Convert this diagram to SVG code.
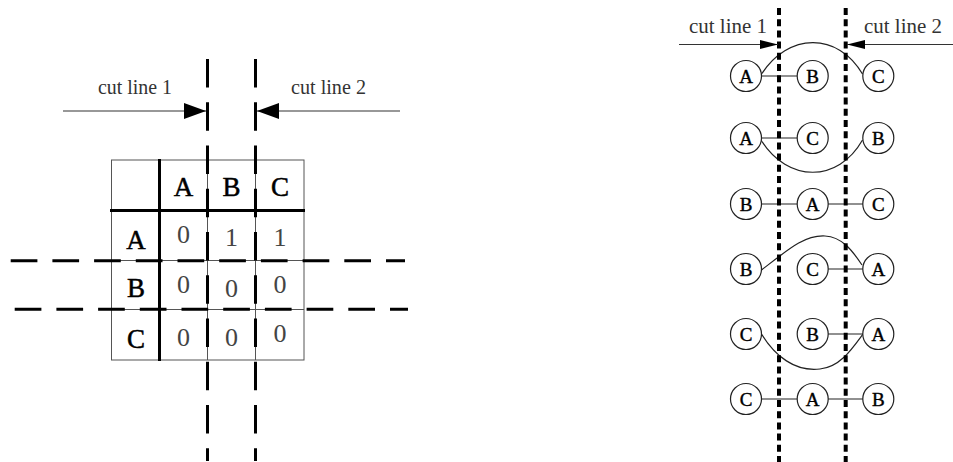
<svg xmlns="http://www.w3.org/2000/svg" width="953" height="462" viewBox="0 0 953 462">
<defs>
<style>
.lbl{font-family:"Liberation Serif","DejaVu Serif",serif;font-size:20px;fill:#333}
.hd{font-family:"Liberation Serif","DejaVu Serif",serif;font-size:27px;fill:#000;stroke:#000;stroke-width:0.5;text-anchor:middle}
.dg{font-family:"Liberation Serif","DejaVu Serif",serif;font-size:26px;fill:#444;text-anchor:middle}
.nd{font-family:"Liberation Serif","DejaVu Serif",serif;font-size:19px;fill:#000;stroke:#000;stroke-width:0.4;text-anchor:middle}
.thin{stroke:#555;stroke-width:1;fill:none}
.thick{stroke:#000;stroke-width:3;fill:none}
.cutv{stroke:#000;stroke-width:3;stroke-dasharray:28.5 14.75;fill:none}
.cuth{stroke:#000;stroke-width:3;stroke-dasharray:26.7 15;fill:none}
.cutr{stroke:#000;stroke-width:4;stroke-dasharray:7 4.2;fill:none}
.arr{stroke:#333;stroke-width:1.2;fill:none}
.edge{stroke:#222;stroke-width:1.2;fill:none}
circle{fill:#fff;stroke:#222;stroke-width:1.2}
</style>
<marker id="ah" viewBox="0 0 10 10" refX="10" refY="5" markerWidth="22" markerHeight="16" markerUnits="userSpaceOnUse" orient="auto" preserveAspectRatio="none">
<path d="M0,0 L10,5 L0,10 Z" fill="#000"/>
</marker>
<marker id="ah2" viewBox="0 0 10 10" refX="10" refY="5" markerWidth="18" markerHeight="9" markerUnits="userSpaceOnUse" orient="auto" preserveAspectRatio="none">
<path d="M0,0 L10,5 L0,10 Z" fill="#000"/>
</marker>
</defs>

<g id="matrix">
<rect x="111.5" y="160" width="192.5" height="200" class="thin"/>
<line x1="207.5" y1="160" x2="207.5" y2="360" class="thin"/>
<line x1="255.5" y1="160" x2="255.5" y2="360" class="thin"/>
<line x1="111.5" y1="260.5" x2="304" y2="260.5" class="thin"/>
<line x1="111.5" y1="309.5" x2="304" y2="309.5" class="thin"/>
<line x1="159.5" y1="159" x2="159.5" y2="361" class="thick"/>
<line x1="110" y1="210.5" x2="305" y2="210.5" class="thick"/>
<text class="hd" x="183.5" y="196">A</text>
<text class="hd" x="231.5" y="196">B</text>
<text class="hd" x="280" y="196">C</text>
<text class="hd" x="136" y="248.5">A</text>
<text class="hd" x="136" y="297">B</text>
<text class="hd" x="136" y="348">C</text>
<text class="dg" x="183.5" y="243">0</text>
<text class="dg" x="231.5" y="245.5">1</text>
<text class="dg" x="280" y="245.5">1</text>
<text class="dg" x="183.5" y="292.5">0</text>
<text class="dg" x="231.5" y="296.5">0</text>
<text class="dg" x="280" y="292.5">0</text>
<text class="dg" x="183.5" y="346">0</text>
<text class="dg" x="231.5" y="346">0</text>
<text class="dg" x="280" y="342">0</text>
</g>

<g id="matrix-cuts">
<line x1="207.5" y1="59" x2="207.5" y2="461" class="cutv"/>
<line x1="255.5" y1="59" x2="255.5" y2="461" class="cutv"/>
<line x1="10.7" y1="260.7" x2="405" y2="260.7" class="cuth"/>
<line x1="14.7" y1="309.3" x2="408" y2="309.3" class="cuth"/>
<line x1="63" y1="111" x2="206" y2="111" class="arr" marker-end="url(#ah)"/>
<line x1="400" y1="111" x2="257" y2="111" class="arr" marker-end="url(#ah)"/>
<text class="lbl" x="98" y="94" textLength="74" lengthAdjust="spacingAndGlyphs">cut line 1</text>
<text class="lbl" x="291" y="94" textLength="75" lengthAdjust="spacingAndGlyphs">cut line 2</text>
</g>

<g id="connectors">
<line x1="761.5" y1="76" x2="797" y2="76" class="edge"/>
<path d="M761,75 C788,32 838,32 862.5,74" class="edge"/>
<line x1="761.5" y1="138" x2="797" y2="138" class="edge"/>
<path d="M761,140 C788,183 838,183 862.5,140" class="edge"/>
<line x1="761.5" y1="204" x2="797" y2="204" class="edge"/>
<line x1="828" y1="204" x2="863" y2="204" class="edge"/>
<line x1="828" y1="269" x2="863" y2="269" class="edge"/>
<path d="M761.5,270 C790,248 805,235 825,236 C842,237 852,250 862,265" class="edge"/>
<line x1="828" y1="334" x2="863" y2="334" class="edge"/>
<path d="M761.5,334 C775,356 795,372 820,369 C840,367 852,349 863,334" class="edge"/>
<line x1="761.5" y1="399" x2="797" y2="399" class="edge"/>
<line x1="828" y1="399" x2="863" y2="399" class="edge"/>
</g>

<g id="n1a"><circle cx="746" cy="76" r="15.5"/><text class="nd" x="746" y="82.5">A</text></g>
<g id="n1b"><circle cx="812.7" cy="76" r="15.5"/><text class="nd" x="812.7" y="82.5">B</text></g>
<g id="n1c"><circle cx="878.3" cy="76" r="15.5"/><text class="nd" x="878.3" y="82.5">C</text></g>
<g id="n2a"><circle cx="746" cy="138" r="15.5"/><text class="nd" x="746" y="144.5">A</text></g>
<g id="n2c"><circle cx="812.7" cy="138" r="15.5"/><text class="nd" x="812.7" y="144.5">C</text></g>
<g id="n2b"><circle cx="878.3" cy="138" r="15.5"/><text class="nd" x="878.3" y="144.5">B</text></g>
<g id="n3b"><circle cx="746" cy="204" r="15.5"/><text class="nd" x="746" y="210.5">B</text></g>
<g id="n3a"><circle cx="812.7" cy="204" r="15.5"/><text class="nd" x="812.7" y="210.5">A</text></g>
<g id="n3c"><circle cx="878.3" cy="204" r="15.5"/><text class="nd" x="878.3" y="210.5">C</text></g>
<g id="n4b"><circle cx="746" cy="269" r="15.5"/><text class="nd" x="746" y="275.5">B</text></g>
<g id="n4c"><circle cx="812.7" cy="269" r="15.5"/><text class="nd" x="812.7" y="275.5">C</text></g>
<g id="n4a"><circle cx="878.3" cy="269" r="15.5"/><text class="nd" x="878.3" y="275.5">A</text></g>
<g id="n5c"><circle cx="746" cy="334" r="15.5"/><text class="nd" x="746" y="340.5">C</text></g>
<g id="n5b"><circle cx="812.7" cy="334" r="15.5"/><text class="nd" x="812.7" y="340.5">B</text></g>
<g id="n5a"><circle cx="878.3" cy="334" r="15.5"/><text class="nd" x="878.3" y="340.5">A</text></g>
<g id="n6c"><circle cx="746" cy="399" r="15.5"/><text class="nd" x="746" y="405.5">C</text></g>
<g id="n6a"><circle cx="812.7" cy="399" r="15.5"/><text class="nd" x="812.7" y="405.5">A</text></g>
<g id="n6b"><circle cx="878.3" cy="399" r="15.5"/><text class="nd" x="878.3" y="405.5">B</text></g>

<g id="order-cuts">
<line x1="779" y1="8" x2="779" y2="462" class="cutr"/>
<line x1="845.7" y1="8" x2="845.7" y2="462" class="cutr"/>
<line x1="679" y1="44.5" x2="778" y2="44.5" class="arr" marker-end="url(#ah2)"/>
<line x1="953" y1="44.5" x2="847" y2="44.5" class="arr" marker-end="url(#ah2)"/>
<text class="lbl" x="689" y="33" textLength="78" lengthAdjust="spacingAndGlyphs">cut line 1</text>
<text class="lbl" x="864" y="33" textLength="78" lengthAdjust="spacingAndGlyphs">cut line 2</text>
</g>
</svg>
